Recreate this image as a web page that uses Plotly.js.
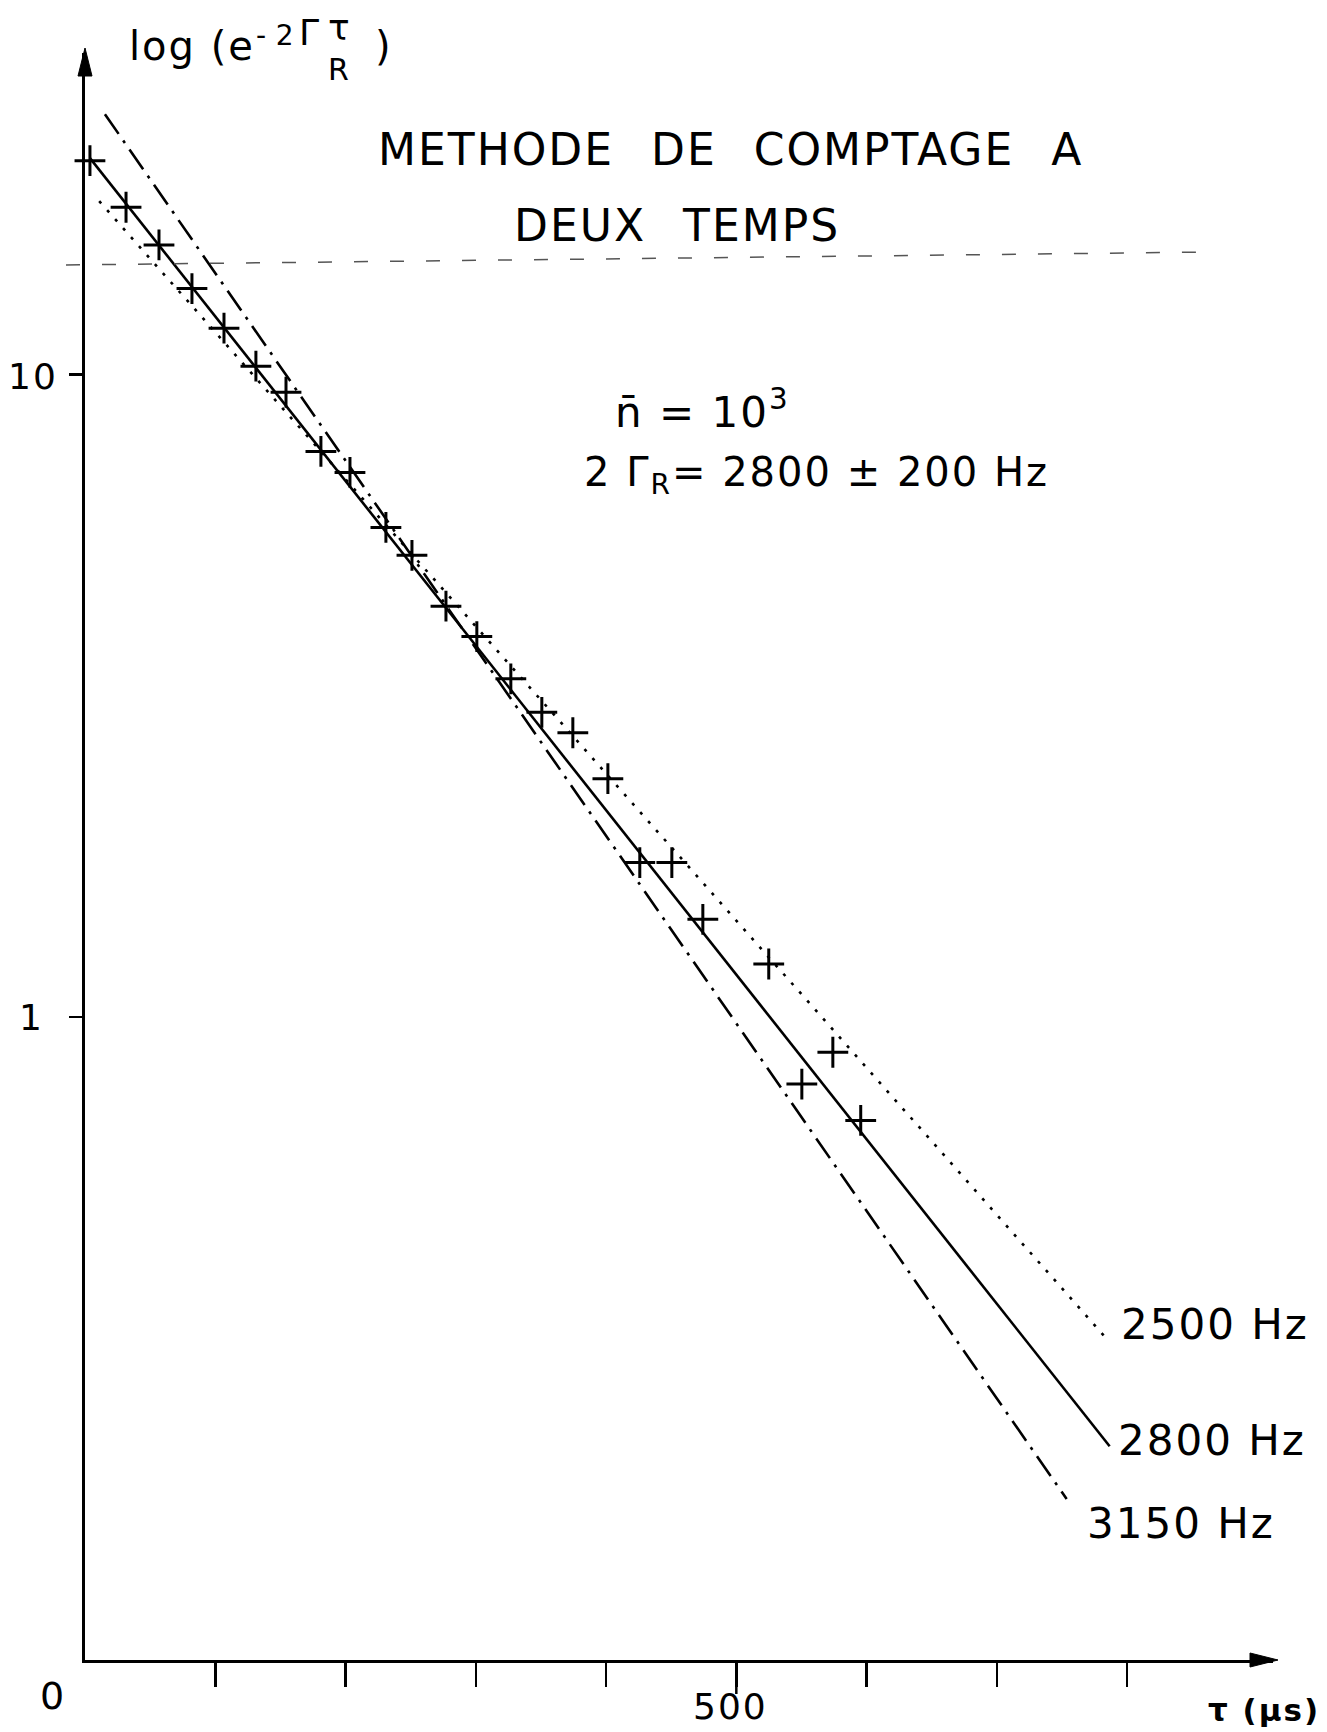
<!DOCTYPE html>
<html>
<head>
<meta charset="utf-8">
<script src="https://cdn.plot.ly/plotly-3.0.1.min.js"></script>
<style>
  html, body { margin: 0; padding: 0; background: #fff; }
  #chart { width: 1327px; height: 1732px; }
  .annotation-text { letter-spacing: 2px; }
</style>
</head>
<body>
<div id="chart"></div>
<script>
// ---- data ----
// measured points (tau in microseconds, value on log scale)
const tau_us = [3.8, 31.5, 56.8, 82.1, 106.7, 131.2, 154.3, 181.1, 203.4, 231.0, 251.0, 277.1,
                300.8, 326.9, 350.7, 374.5, 401.4, 425.9, 450.5, 474.3, 524.9, 550.3, 574.1, 595.5];
const measured = [21.5, 18.2, 15.9, 13.6, 11.8, 10.3, 9.38, 7.59, 7.04, 5.78, 5.23, 4.36,
                  3.91, 3.36, 2.98, 2.77, 2.35, 1.74, 1.74, 1.42, 1.21, 0.787, 0.882, 0.691];

// fitted straight lines (end points)
const fit2500_tau = [10.9, 784.3];
const fit2500_val = [18.6, 0.316];
const fit2800_tau = [3.8, 786.6];
const fit2800_val = [21.7, 0.215];
const fit3150_tau = [15.3, 753.6];
const fit3150_val = [25.4, 0.178];

const xTicks = [100, 200, 300, 400, 500, 600, 700, 800];
const yTicks = [1, 10];

// ---- layout geometry (page pixels) ----
const W = 1327, H = 1732;
const M = { l: 85, r: 54, t: 53, b: 72 };
const PW = W - M.l - M.r, PH = H - M.t - M.b;
function px(X, Y) { return { x: (X - M.l) / PW, y: (H - M.b - Y) / PH }; }

const FONT = 'DejaVu Sans';
function txt(text, X, Y, size, xanchor) {
  const p = px(X, Y);
  return { text: text, xref: 'paper', yref: 'paper', x: p.x, y: p.y,
           xanchor: xanchor || 'left', yanchor: 'middle', showarrow: false,
           font: { family: FONT, size: size, color: '#000' } };
}

const traces = [
  { x: fit2500_tau, y: fit2500_val, mode: 'lines', line: { color: '#000', width: 2.6, dash: '3px,9px' }, hoverinfo: 'skip' },
  { x: fit2800_tau, y: fit2800_val, mode: 'lines', line: { color: '#000', width: 2.6 }, hoverinfo: 'skip' },
  { x: fit3150_tau, y: fit3150_val, mode: 'lines', line: { color: '#000', width: 2.6, dash: '24px,8px,3px,8px' }, hoverinfo: 'skip' },
  { x: tau_us, y: measured, mode: 'markers', cliponaxis: false,
    marker: { symbol: 'cross-thin', size: 22, color: '#000', line: { color: '#000', width: 3 } } }
];

const G = '\u2002\u2005';
const annotations = [
  txt('METHODE' + G + 'DE' + G + 'COMPTAGE' + G + 'A', 376, 149, 44),
  txt('DEUX' + G + 'TEMPS', 512, 226, 44),
  txt('n\u0304 = 10<sup>3</sup>', 613, 409, 42),
  txt('2 \u0393<sub>R</sub>= 2800 \u00B1 200 Hz', 582, 475, 40),
  txt('2500 Hz', 1119, 1324, 42),
  txt('2800 Hz', 1116, 1440, 42),
  txt('3150 Hz', 1085, 1523, 42),
  // y axis title pieces
  txt('log (e', 127, 46, 40),
  txt('-\u20092', 254, 36, 28),
  txt('\u0393', 297, 32, 36),
  txt('\u03C4', 326, 28, 36),
  txt('R', 326, 69, 30),
  txt(')', 373, 46, 40),
  // axis tick labels
  txt('10', 33, 376, 36, 'center'),
  txt('1', 31, 1017, 36, 'center'),
  txt('0', 53, 1696, 38, 'center'),
  txt('500', 730, 1706, 36, 'center'),
  txt('<b>\u03C4 (\u00B5s)</b>', 1264, 1710, 31, 'center')
];

function path(points) {
  return 'M' + points.map(function (q) { const p = px(q[0], q[1]); return p.x + ',' + p.y; }).join(' L') + ' Z';
}
const pL = px(66, 265), pR = px(1215, 252);
const p500a = px(0, M.t + PH), p500b = px(0, M.t + PH + 34);
const shapes = [
  // faint dashed fold line seen across the sheet
  { type: 'line', xref: 'paper', yref: 'paper', x0: pL.x, y0: pL.y, x1: pR.x, y1: pR.y,
    line: { color: '#555', width: 1.5, dash: '14px,22px' } },
  // longer tick at 500
  { type: 'line', xref: 'x', yref: 'paper', x0: 500, x1: 500, y0: p500a.y, y1: p500b.y,
    line: { color: '#000', width: 2.5 } },
  // arrow heads at the ends of the axes
  { type: 'path', xref: 'paper', yref: 'paper', path: path([[85, 48], [78, 76], [92, 76]]),
    fillcolor: '#000', line: { color: '#000', width: 1 } },
  { type: 'path', xref: 'paper', yref: 'paper', path: path([[1278, 1660], [1250, 1653], [1250, 1667]]),
    fillcolor: '#000', line: { color: '#000', width: 1 } }
];

const layout = {
  width: W, height: H,
  margin: M,
  paper_bgcolor: '#fff', plot_bgcolor: '#fff',
  showlegend: false,
  font: { family: FONT, color: '#000' },
  xaxis: {
    range: [0, 912], showgrid: false, zeroline: false,
    showline: true, linecolor: '#000', linewidth: 3,
    tickmode: 'array', tickvals: xTicks, ticks: 'outside', ticklen: 24, tickwidth: 2.5, tickcolor: '#000',
    showticklabels: false
  },
  yaxis: {
    type: 'log', range: [-1, 1.5], showgrid: false, zeroline: false,
    showline: true, linecolor: '#000', linewidth: 3,
    tickmode: 'array', tickvals: yTicks, ticks: 'outside', ticklen: 13, tickwidth: 2.5, tickcolor: '#000',
    showticklabels: false
  },
  annotations: annotations,
  shapes: shapes
};

Plotly.newPlot('chart', traces, layout, { staticPlot: true, displayModeBar: false });
</script>
</body>
</html>
